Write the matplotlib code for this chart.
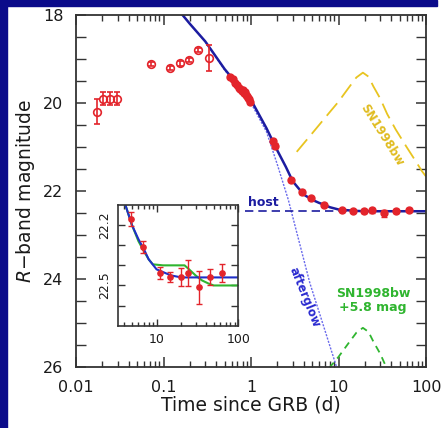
import numpy as np
import matplotlib.pyplot as plt
from matplotlib.patches import Rectangle
from matplotlib.ticker import LogLocator, FixedLocator, NullFormatter, FixedFormatter

# early photometry (open circles)
early_t = [0.0175, 0.0204, 0.0245, 0.0293, 0.0714, 0.119, 0.156, 0.194, 0.248, 0.331]
early_mag = [20.2, 19.9, 19.9, 19.9, 19.11, 19.21, 19.10, 19.02, 18.80, 18.98]
early_err = [0.28, 0.15, 0.15, 0.15, 0.05, 0.05, 0.05, 0.05, 0.05, 0.30]

# later photometry (filled)
late_t = [0.58, 0.62, 0.66, 0.70, 0.72, 0.75, 0.78, 0.80, 0.83, 0.85, 0.87, 0.90, 0.92, 0.95, 0.97,
          1.78, 1.88, 2.86, 3.85, 4.9, 6.8, 10.9, 14.8, 19.7, 24.0, 33.0, 45.0, 64.0]
late_mag = [19.40, 19.45, 19.55, 19.58, 19.65, 19.68, 19.72, 19.70, 19.78, 19.75, 19.82, 19.85, 19.88, 19.92, 19.98,
            20.87, 20.97, 21.75, 22.02, 22.17, 22.31, 22.44, 22.46, 22.46, 22.44, 22.51, 22.46, 22.44]
late_err = [0.04] * 15 + [0.05, 0.05, 0.04, 0.04, 0.035, 0.03, 0.03, 0.025, 0.045, 0.065, 0.08, 0.04, 0.045]

# model curves
total_t = [0.15, 0.2, 0.3, 0.5, 0.7, 1.0, 1.5, 2.0, 2.5, 3.0, 4.0, 5.0, 6.0, 7.0, 8.0, 10, 15, 20, 50, 100]
total_mag = [17.9, 18.2, 18.6, 19.23, 19.58, 19.93, 20.57, 21.08, 21.45, 21.78, 22.08, 22.2, 22.27, 22.32,
             22.37, 22.42, 22.45, 22.46, 22.46, 22.46]
afterglow_t = [0.15, 0.2, 0.3, 0.5, 0.7, 1.0, 1.5, 2.0, 2.67, 3.0, 4.0, 4.72, 6.0, 8.73, 9.0, 10.0]
afterglow_mag = [17.9, 18.2, 18.6, 19.25, 19.62, 20.0, 20.65, 21.4, 22.2, 22.59, 23.55, 24.1, 24.75, 25.77, 25.85, 26.14]
host_t = [0.85, 100]
host_mag = [22.46, 22.46]
sn_t = [3.33, 4, 5, 6, 8, 10, 13, 16, 19, 22, 25, 30, 36, 45, 60, 75, 90, 100]
sn_mag = [21.11, 20.92, 20.69, 20.50, 20.2, 19.97, 19.66, 19.42, 19.31, 19.4, 19.62, 19.9, 20.25, 20.6,
          21.0, 21.3, 21.55, 21.67]
sn_offset = 5.8

# inset: model including SN
green_t = [3.4, 4, 5, 6, 7, 8, 9, 12, 18, 22, 25, 30, 36, 43, 50, 70, 100]
green_mag = [21.98, 22.08, 22.2, 22.28, 22.33, 22.37, 22.395, 22.40, 22.40, 22.40, 22.42, 22.45, 22.475,
             22.49, 22.50, 22.50, 22.50]

RED = "#e3242b"
NAVY = "#1c1ca0"

fig = plt.figure(figsize=(4.44, 4.28), dpi=100)
fig.patches.append(Rectangle((0, 0), 7 / 444, 1, transform=fig.transFigure, color="#0b0b8a", zorder=10))
fig.patches.append(Rectangle((0, 1 - 6 / 428), 437 / 444, 6 / 428, transform=fig.transFigure,
                             color="#0b0b8a", zorder=10))

ax = fig.add_axes([76 / 444, 1 - 367 / 428, 350 / 444, 352 / 428])
ax.set_xscale("log")
ax.set_xlim(0.01, 100)
ax.set_ylim(26, 18)

ax.plot(afterglow_t, afterglow_mag, color="#6a6aec", lw=1.0, ls=(0, (1.5, 1)))
ax.plot(host_t, host_mag, color=NAVY, lw=1.2, ls=(0, (5, 3)))
ax.plot(total_t, total_mag, color=NAVY, lw=1.8)
ax.plot(sn_t, sn_mag, color="#e8c420", lw=1.3, ls=(0, (9, 4)))
ax.plot(sn_t, np.array(sn_mag) + sn_offset, color="#2fb52f", lw=1.3, ls=(0, (4, 3)))

ax.errorbar(early_t, early_mag, yerr=early_err, fmt="o", ms=5.5, mfc="none", mec=RED, mew=1.2,
            ecolor=RED, elinewidth=1.2, capsize=2.5, capthick=1.2)
ax.errorbar(late_t, late_mag, yerr=late_err, fmt="o", ms=5, color=RED, ecolor=RED,
            elinewidth=1, capsize=2, zorder=5)

ax.text(1.37, 22.25, "host", color=NAVY, fontsize=9, fontweight="bold", ha="center", va="center")
ax.text(4.04, 24.42, "afterglow", color="#2a2ad0", fontsize=8.5, fontweight="bold",
        rotation=-68, ha="center", va="center")
ax.text(31.2, 20.73, "SN1998bw", color="#e0bc20", fontsize=8.5, fontweight="bold",
        rotation=-58, ha="center", va="center")
ax.text(24.8, 24.48, "SN1998bw\n+5.8 mag", color="#2fb52f", fontsize=9, fontweight="bold",
        ha="center", va="center", linespacing=1.1)

ax.set_xticks([0.01, 0.1, 1, 10, 100])
ax.set_xticklabels(["0.01", "0.1", "1", "10", "100"])
ax.xaxis.set_minor_locator(LogLocator(base=10, subs=np.arange(2, 10)))
ax.xaxis.set_minor_formatter(NullFormatter())
ax.set_yticks([18, 20, 22, 24, 26])
ax.yaxis.set_minor_locator(FixedLocator(np.arange(18, 26.01, 0.5)))
ax.tick_params(which="both", direction="in", top=True, right=True, colors="#333333",
               labelcolor="#1a1a1a", labelsize=11.5)
ax.tick_params(which="major", length=7, width=1.1, pad=9)
ax.tick_params(which="minor", length=4, width=1)
ax.tick_params(axis="y", which="minor", length=7)
for s in ax.spines.values():
    s.set_color("#333333")
    s.set_linewidth(1.3)
ax.set_xlabel("Time since GRB (d)", fontsize=13.5, color="#1a1a1a", labelpad=1)
ax.set_ylabel("$R$\u2212band magnitude", fontsize=13.5, color="#1a1a1a", labelpad=4)

# inset
ins = fig.add_axes([118.3 / 444, 1 - 325.7 / 428, 120 / 444, 120.7 / 428])
ins.set_xscale("log")
ins.set_xlim(3.4, 100)
ins.set_ylim(22.7, 22.1)
ins.plot(green_t, green_mag, color="#2fb52f", lw=1.5)
ins.plot(total_t, total_mag, color="#1f2fc8", lw=1.5)
ins.errorbar(late_t, late_mag, yerr=late_err, fmt="o", ms=3.8, color=RED, ecolor=RED,
             elinewidth=1, capsize=2, zorder=5)
ins.set_xticks([10, 100])
ins.set_xticklabels(["10", "100"])
ins.xaxis.set_minor_locator(LogLocator(base=10, subs=np.arange(2, 10)))
ins.xaxis.set_minor_formatter(NullFormatter())
ins.yaxis.set_major_locator(FixedLocator([22.2, 22.5]))
ins.yaxis.set_major_formatter(FixedFormatter(["22.2", "22.5"]))
ins.yaxis.set_minor_locator(FixedLocator([22.3, 22.4, 22.6]))
ins.tick_params(which="both", direction="in", top=True, right=True, colors="#333333",
                labelcolor="#1a1a1a", labelsize=9)
ins.tick_params(which="major", length=5, width=1, pad=5)
ins.tick_params(which="minor", length=3, width=1)
ins.tick_params(axis="y", which="minor", length=5)
ins.tick_params(axis="y", labelrotation=90)
for lab in ins.get_yticklabels():
    lab.set_va("center")
for s in ins.spines.values():
    s.set_color("#333333")
    s.set_linewidth(1.2)

fig.savefig("out.png", dpi=100)
